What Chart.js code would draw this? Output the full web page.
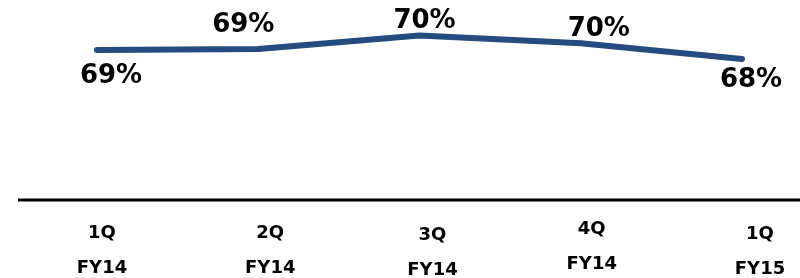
<!DOCTYPE html>
<html>
<head>
<meta charset="utf-8">
<script src="https://cdn.jsdelivr.net/npm/chart.js@4"></script>
<style>
  html, body { margin: 0; padding: 0; background: #fff; }
  #wrap { width: 800px; height: 278px; }
</style>
</head>
<body>
<div id="wrap"><canvas id="chart"></canvas></div>
<script>
// data
const quarters = ['1Q', '2Q', '3Q', '4Q', '1Q'];
const fiscalYears = ['FY14', 'FY14', 'FY14', 'FY14', 'FY15'];
const ratio = [69.0, 69.1, 70.3, 69.6, 68.2];

// where each value label sits relative to its point (dx, dy)
const labelNudge = [[14, 26], [-15, -24], [5, -14], [18, -14], [9, 21]];
// small offsets of the axis labels (dx, dy)
const tickNudge = [[5, 0], [12, 0], [13, 2], [11, -4], [18, 1]];

const lineColor = '#254b7f';
const fontFamily = 'Verdana, "DejaVu Sans", sans-serif';

// value labels on the line
const valueLabels = {
  id: 'valueLabels',
  afterDatasetsDraw(chart) {
    const ctx = chart.ctx;
    const pts = chart.getDatasetMeta(0).data;
    ctx.save();
    ctx.font = 'bold 26px ' + fontFamily;
    ctx.fillStyle = '#000';
    ctx.textAlign = 'center';
    ctx.textBaseline = 'middle';
    pts.forEach((p, i) => {
      ctx.fillText(Math.round(ratio[i]) + '%', p.x + labelNudge[i][0], p.y + labelNudge[i][1]);
    });
    ctx.restore();
  }
};

// baseline + two line category labels
const axisLabels = {
  id: 'axisLabels',
  afterDraw(chart) {
    const ctx = chart.ctx;
    const x = chart.scales.x;
    const base = chart.scales.y.bottom;
    ctx.save();
    ctx.strokeStyle = '#000';
    ctx.lineWidth = 3;
    ctx.beginPath();
    ctx.moveTo(18, base);
    ctx.lineTo(chart.width, base);
    ctx.stroke();

    ctx.font = 'bold 18px ' + fontFamily;
    ctx.fillStyle = '#000';
    ctx.textAlign = 'center';
    ctx.textBaseline = 'middle';
    quarters.forEach((q, i) => {
      const px = x.getPixelForValue(i) + tickNudge[i][0];
      ctx.fillText(q, px, base + 33 + tickNudge[i][1]);
      ctx.fillText(fiscalYears[i], px, base + 68 + tickNudge[i][1]);
    });
    ctx.restore();
  }
};

new Chart(document.getElementById('chart'), {
  type: 'line',
  data: {
    labels: quarters.map((q, i) => q + ' ' + fiscalYears[i]),
    datasets: [{
      data: ratio,
      borderColor: lineColor,
      borderWidth: 6,
      borderCapStyle: 'round',
      borderJoinStyle: 'round',
      pointRadius: 0,
      tension: 0,
      clip: false
    }]
  },
  options: {
    responsive: true,
    maintainAspectRatio: false,
    animation: false,
    layout: { padding: { left: 97, right: 58, top: 0, bottom: 78 } },
    plugins: { legend: { display: false }, tooltip: { enabled: false } },
    scales: {
      x: { display: false, offset: false },
      y: { display: false, min: 55.5, max: 73.5 }
    }
  },
  plugins: [valueLabels, axisLabels]
});
</script>
</body>
</html>
